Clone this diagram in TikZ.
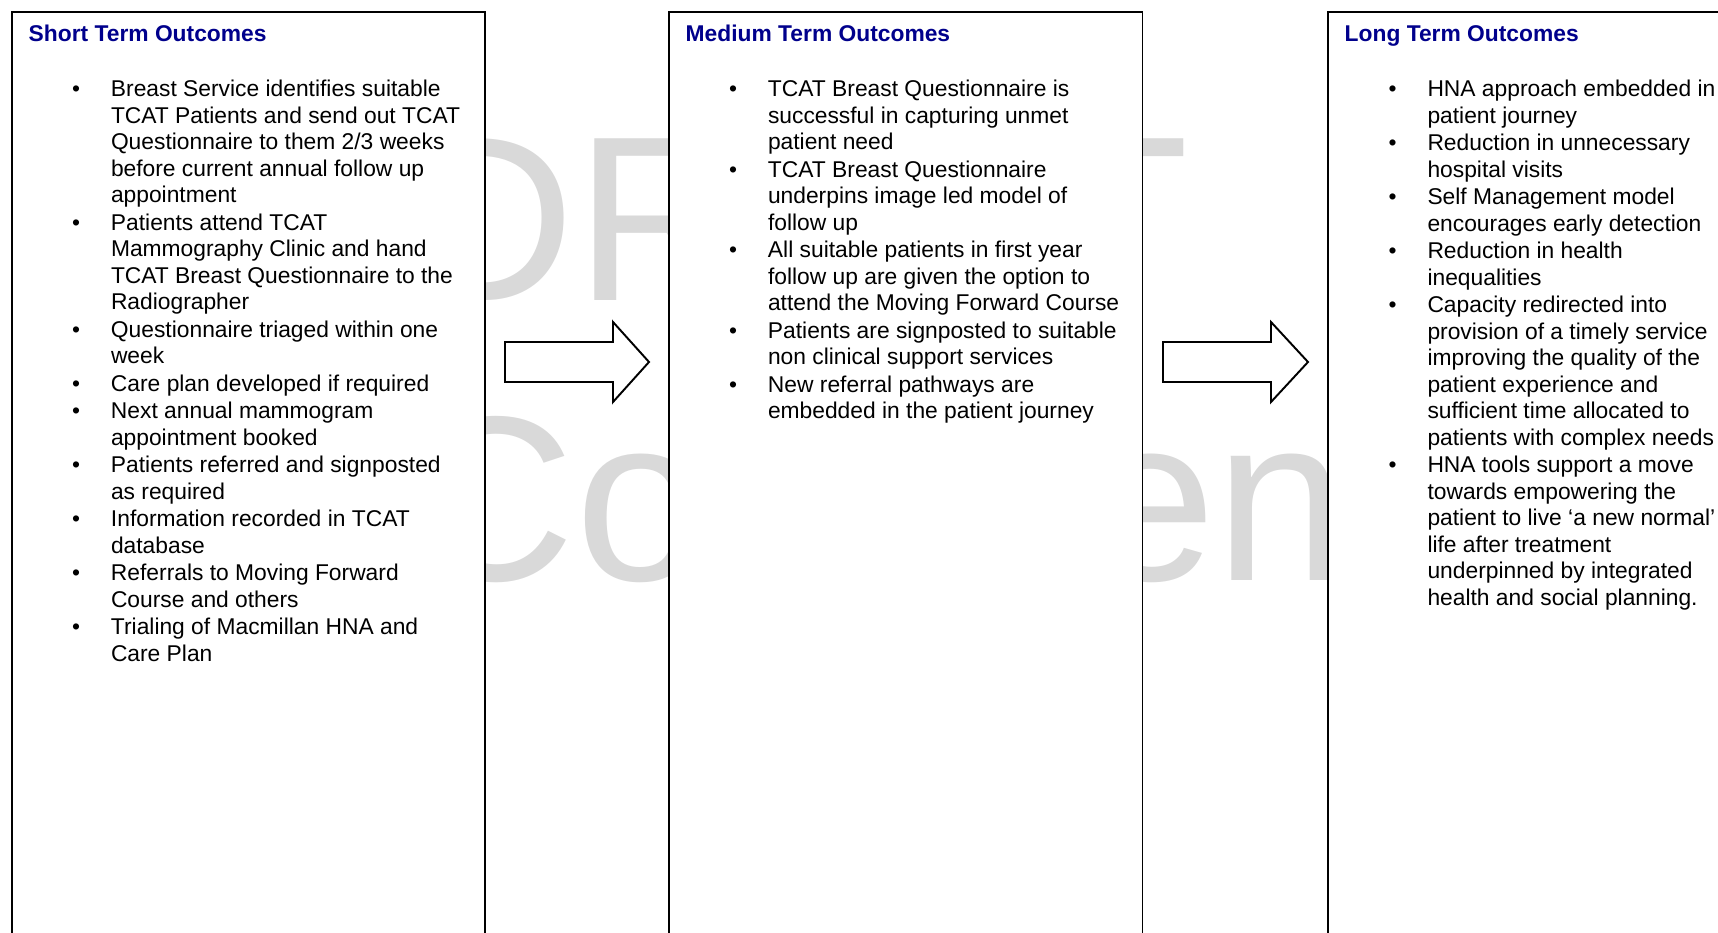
\documentclass[tikz,border=0pt]{standalone}
\usepackage{fontspec}
\setmainfont{Liberation Sans}
\definecolor{headblue}{RGB}{0,0,140}
\definecolor{markgray}{RGB}{217,217,217}
\newcommand{\itembul}{\makebox[0.388cm][l]{\textbullet}}
\newcommand{\itemind}{\hspace*{0.388cm}}

\begin{document}
\begin{tikzpicture}[line join=miter, font=\fontsize{6.49}{7.54}\selectfont,
	wmark/.style={anchor=base west, inner sep=0, text=markgray, font=\fontsize{66.9}{80}\selectfont},
	outbox/.style={draw=black, fill=white, line width=0.55pt},
	blockarrow/.style={draw=black, fill=white, line width=0.55pt},
	heading/.style={anchor=base west, inner sep=0, text=headblue, font=\fontsize{6.49}{7.54}\selectfont\bfseries},
	outlist/.style={anchor=base west, inner sep=0, align=left}]
			\useasboundingbox (0,0) rectangle (17.18,-9.32);
			\clip (0,0) rectangle (17.18,-9.32);
			% watermark, mostly hidden by the boxes
			\node[wmark] (draftword) at (4.05,-3.00) {DRAFT};
			\node[wmark] (confword) at (4.05,-5.80) {Confidential};
			% the three columns
			\draw[outbox] (0.12,-0.12) rectangle (4.85,-9.60);
			\draw[outbox] (6.69,-0.12) rectangle (11.425,-9.60);
			\draw[outbox] (13.28,-0.12) rectangle (18.00,-9.60);
			% block arrows between them
			\draw[blockarrow] (5.05,-3.42) -- (6.13,-3.42) -- (6.13,-3.22) -- (6.49,-3.62) -- (6.13,-4.02) -- (6.13,-3.82) -- (5.05,-3.82) -- cycle;
			\draw[blockarrow] (11.63,-3.42) -- (12.71,-3.42) -- (12.71,-3.22) -- (13.08,-3.62) -- (12.71,-4.02) -- (12.71,-3.82) -- (11.63,-3.82) -- cycle;
			% headings
			\node[heading] (shorthead) at (0.28,-0.41) {Short Term Outcomes};
			\node[heading] (mediumhead) at (6.85,-0.41) {Medium Term Outcomes};
			\node[heading] (longhead) at (13.44,-0.41) {Long Term Outcomes};
			% bullet lists, placed at the baseline of their last line
			\node[outlist] (shortlist) at (0.715,-6.61) {%
				\itembul Breast Service identifies suitable\\
				\itemind TCAT Patients and send out TCAT\\
				\itemind Questionnaire to them 2/3 weeks\\
				\itemind before current annual follow up\\
				\itemind appointment\\[0.01cm]
				\itembul Patients attend TCAT\\
				\itemind Mammography Clinic and hand\\
				\itemind TCAT Breast Questionnaire to the\\
				\itemind Radiographer\\[0.01cm]
				\itembul Questionnaire triaged within one\\
				\itemind week\\[0.01cm]
				\itembul Care plan developed if required\\[0.01cm]
				\itembul Next annual mammogram\\
				\itemind appointment booked\\[0.01cm]
				\itembul Patients referred and signposted\\
				\itemind as required\\[0.01cm]
				\itembul Information recorded in TCAT\\
				\itemind database\\[0.01cm]
				\itembul Referrals to Moving Forward\\
				\itemind Course and others\\[0.01cm]
				\itembul Trialing of Macmillan HNA and\\
				\itemind Care Plan};
			\node[outlist] (mediumlist) at (7.285,-4.185) {%
				\itembul TCAT Breast Questionnaire is\\
				\itemind successful in capturing unmet\\
				\itemind patient need\\[0.01cm]
				\itembul TCAT Breast Questionnaire\\
				\itemind underpins image led model of\\
				\itemind follow up\\[0.01cm]
				\itembul All suitable patients in first year\\
				\itemind follow up are given the option to\\
				\itemind attend the Moving Forward Course\\[0.01cm]
				\itembul Patients are signposted to suitable\\
				\itemind non clinical support services\\[0.01cm]
				\itembul New referral pathways are\\
				\itemind embedded in the patient journey};
			\node[outlist] (longlist) at (13.88,-6.05) {%
				\itembul HNA approach embedded in\\
				\itemind patient journey\\[0.01cm]
				\itembul Reduction in unnecessary\\
				\itemind hospital visits\\[0.01cm]
				\itembul Self Management model\\
				\itemind encourages early detection\\[0.01cm]
				\itembul Reduction in health\\
				\itemind inequalities\\[0.01cm]
				\itembul Capacity redirected into\\
				\itemind provision of a timely service\\
				\itemind improving the quality of the\\
				\itemind patient experience and\\
				\itemind sufficient time allocated to\\
				\itemind patients with complex needs\\[0.01cm]
				\itembul HNA tools support a move\\
				\itemind towards empowering the\\
				\itemind patient to live ‘a new normal’\\
				\itemind life after treatment\\
				\itemind underpinned by integrated\\
				\itemind health and social planning.};
		\end{tikzpicture}
\end{document}
